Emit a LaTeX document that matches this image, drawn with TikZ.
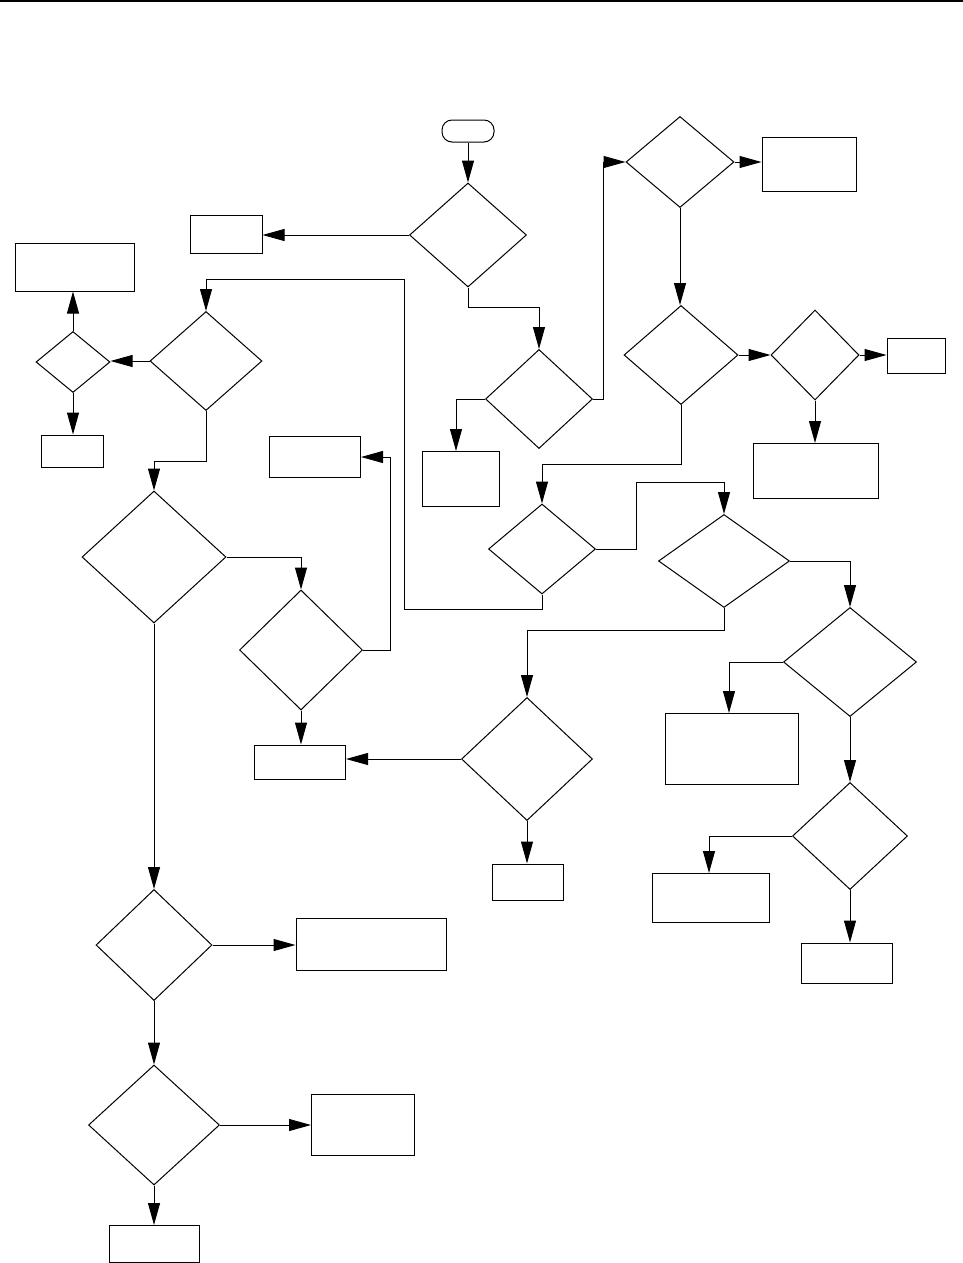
\documentclass[tikz,border=0pt]{standalone}
\usepackage{tikz}
\usetikzlibrary{shapes, shapes.geometric, arrows, arrows.meta}
\usetikzlibrary{positioning}
\tikzstyle{box} = [rectangle, inner sep = 0, draw = black]
\tikzstyle{dec} = [diamond, inner sep = 0, draw = black]
\tikzstyle{term} = [
  rectangle, rounded corners = 10,
  inner sep = 0, draw = black
]

\begin{document}
\begin{tikzpicture}[node distance = 0, x = 1pt, y = -1pt, line width = 1pt,
    >={Triangle[length = 22pt, width = 12pt]}]
      \useasboundingbox (0, 0) rectangle (963, 1263);
      \fill (0, 0) rectangle (963, 2.5);
      % top
      \node [term, minimum width = 52, minimum height = 22] (start) at (468, 131) {};
      \node [dec, below of = start, yshift = -104, minimum width = 117, minimum height = 104] (dec-1) {};
      \node [box, left of = dec-1, xshift = -242, yshift = 1, minimum width = 72, minimum height = 38] (box-1) {};
      \node [dec, below of = dec-1, xshift = 71, yshift = -164, minimum width = 107, minimum height = 99] (dec-2) {};
      \node [box, left of = dec-2, xshift = -78, yshift = -80, minimum width = 77, minimum height = 55] (box-2) {};
      % right
      \node [dec, right of = dec-1, xshift = 212, yshift = 73, minimum width = 108, minimum height = 91] (dec-3) {};
      \node [box, right of = dec-3, xshift = 129, yshift = -2, minimum width = 94, minimum height = 54] (box-3) {};
      \node [dec, below of = dec-3, xshift = 1, yshift = -193, minimum width = 114, minimum height = 99] (dec-4) {};
      \node [dec, right of = dec-4, xshift = 134, minimum width = 88, minimum height = 90] (dec-5) {};
      \node [box, right of = dec-5, xshift = 101, yshift = -1, minimum width = 58, minimum height = 35] (box-4) {};
      \node [box, below of = dec-5, xshift = 1, yshift = -116, minimum width = 125, minimum height = 55] (box-5) {};
      \node [dec, below of = dec-4, xshift = -139, yshift = -194, minimum width = 107, minimum height = 90] (dec-6) {};
      \node [dec, below of = dec-4, xshift = 43, yshift = -206, minimum width = 131, minimum height = 93] (dec-7) {};
      \node [dec, below of = dec-7, xshift = 126, yshift = -101, minimum width = 133, minimum height = 109] (dec-8) {};
      \node [box, left of = dec-8, xshift = -118, yshift = -87, minimum width = 133, minimum height = 71] (box-6) {};
      \node [dec, below of = dec-8, yshift = -174, minimum width = 115, minimum height = 107] (dec-9) {};
      \node [box, left of = dec-9, xshift = -139, yshift = -62, minimum width = 117, minimum height = 49] (box-7) {};
      \node [box, below of = dec-9, xshift = -3, yshift = -127, minimum width = 91, minimum height = 40] (box-8) {};
      \node [dec, below of = dec-7, xshift = -197, yshift = -198, minimum width = 131, minimum height = 123] (dec-10) {};
      \node [box, below of = dec-10, xshift = 1, yshift = -123, minimum width = 71, minimum height = 36] (box-9) {};
      % left
      \node [box, left of = dec-10, xshift = -227, yshift = -3, minimum width = 91, minimum height = 34] (box-10) {};
      \node [dec, above of = box-10, xshift = 1, yshift = 112, minimum width = 123, minimum height = 120] (dec-11) {};
      \node [box, right of = dec-11, xshift = 14, yshift = 193, minimum width = 91, minimum height = 41] (box-11) {};
      \node [dec, left of = dec-11, xshift = -147, yshift = 93, minimum width = 144, minimum height = 132] (dec-12) {};
      \node [dec, above of = dec-12, xshift = 52, yshift = 196, minimum width = 112, minimum height = 99] (dec-13) {};
      \node [dec, left of = dec-13, xshift = -133, yshift = -1, minimum width = 74, minimum height = 61] (dec-14) {};
      \node [box, above of = dec-14, xshift = 2, yshift = 95, minimum width = 119, minimum height = 48] (box-12) {};
      \node [box, below of = dec-14, xshift = -1, yshift = -89, minimum width = 62, minimum height = 32] (box-13) {};
      % bottom left
      \node [dec, below of = dec-12, yshift = -388, minimum width = 116, minimum height = 111] (dec-15) {};
      \node [box, right of = dec-15, xshift = 217, yshift = 1, minimum width = 150, minimum height = 52] (box-14) {};
      \node [dec, below of = dec-15, yshift = -180, minimum width = 131, minimum height = 120] (dec-16) {};
      \node [box, right of = dec-16, xshift = 209, minimum width = 103, minimum height = 61] (box-15) {};
      \node [box, below of = dec-16, yshift = -119, minimum width = 90, minimum height = 37] (box-16) {};
      \coordinate (loop-a) at (404, 279);

      \draw [->] (start.south) -- (dec-1.north);
      \draw [->] (dec-1.west) -- (dec-1.west -| box-1.east);
      \draw [->] (dec-1.south) -- ++(0, 20) -| (dec-2.north);
      \draw [->] (dec-2.west) -| ([xshift = -5]box-2.north);
      \draw [->] (dec-2.east) -- ++(10, 0) |- (dec-3.west);
      \draw [->] (dec-3.east) -- (dec-3.east -| box-3.west);
      \draw [->] (dec-3.south) -- (dec-3.south |- dec-4.north);
      \draw [->] (dec-4.east) -- (dec-5.west);
      \draw [->] (dec-5.east) -- (dec-5.east -| box-4.west);
      \draw [->] (dec-5.south) -- (dec-5.south |- box-5.north);
      \draw [->] (dec-4.south) -- ++(0, 59) -| (dec-6.north);
      \draw [->] (dec-6.east) -- ++(40, 0) -- ++(0, -67) -| (dec-7.north);
      \draw [->] (dec-6.south) -- ++(0, 15) -| (loop-a) -| (dec-13.north);
      \draw [->] (dec-7.east) -| (dec-8.north);
      \draw [->] (dec-7.south) -- ++(0, 22) -| (dec-10.north);
      \draw [->] (dec-8.west) -| ([xshift = -3]box-6.north);
      \draw [->] (dec-8.south) -- (dec-9.north);
      \draw [->] (dec-9.west) -| ([xshift = -2]box-7.north);
      \draw [->] (dec-9.south) -- (dec-9.south |- box-8.north);
      \draw [->] (dec-10.west) -- (dec-10.west -| box-10.east);
      \draw [->] (dec-10.south) -- (dec-10.south |- box-9.north);
      \draw [->] (dec-11.east) -- ++(27, 0) |- (box-11.east);
      \draw [->] (dec-11.south) -- (dec-11.south |- box-10.north);
      \draw [->] (dec-12.east) -| (dec-11.north);
      \draw [->] (dec-12.south) -- (dec-15.north);
      \draw [->] (dec-13.west) -- (dec-13.west -| dec-14.east);
      \draw [->] (dec-13.south) -- ++(0, 50) -| (dec-12.north);
      \draw [->] (dec-14.north) -- (dec-14.north |- box-12.south);
      \draw [->] (dec-14.south) -- (dec-14.south |- box-13.north);
      \draw [->] (dec-15.east) -- (dec-15.east -| box-14.west);
      \draw [->] (dec-15.south) -- (dec-16.north);
      \draw [->] (dec-16.east) -- (dec-16.east -| box-15.west);
      \draw [->] (dec-16.south) -- (box-16.north);
\end{tikzpicture}
\end{document}
